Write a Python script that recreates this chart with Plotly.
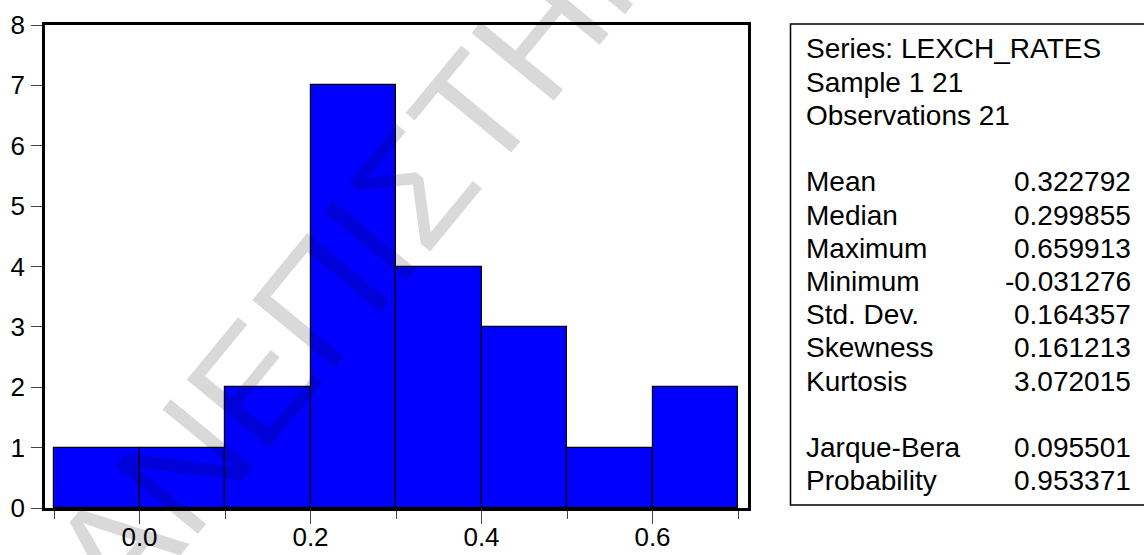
import plotly.graph_objects as go

# Histogram of LEXCH_RATES: bin left edges (width 0.1) and counts per bin
bin_left = [-0.1, 0.0, 0.1, 0.2, 0.3, 0.4, 0.5, 0.6]
counts = [1, 1, 2, 7, 4, 3, 1, 2]
bin_width = 0.1

# Descriptive statistics shown beside the histogram
header_lines = ["Series: LEXCH_RATES", "Sample 1 21", "Observations 21"]
stat_names = ["Mean", "Median", "Maximum", "Minimum", "Std. Dev.", "Skewness", "Kurtosis"]
stat_values = ["0.322792", "0.299855", "0.659913", "-0.031276", "0.164357", "0.161213", "3.072015"]
test_names = ["Jarque-Bera", "Probability"]
test_values = ["0.095501", "0.953371"]

W, H = 1144, 555
L, R, T, B = 45, 1144 - 748, 25, 555 - 508
PW, PH = W - L - R, H - T - B
FONT = "Liberation Sans, Arial, sans-serif"
STAT_SIZE = 28


def px_x(px):
    return (px - L) / PW


def px_y(py):
    return (H - B - py) / PH


centers = [b + bin_width / 2 for b in bin_left]

fig = go.Figure()
fig.add_trace(go.Bar(
    x=centers, y=counts, width=bin_width,
    marker=dict(color="#0000FF", line=dict(color="black", width=1.2)),
    hoverinfo="x+y", showlegend=False,
))

fig.update_layout(
    width=W, height=H,
    margin=dict(l=L, r=R, t=T, b=B, pad=0),
    paper_bgcolor="white", plot_bgcolor="white",
    font=dict(family=FONT, size=26, color="black"),
    bargap=0,
    xaxis=dict(
        range=[-0.11053, 0.71170], tick0=0, dtick=0.2, tickformat=".1f",
        ticks="outside", ticklen=13, tickwidth=1, tickcolor="#444",
        minor=dict(dtick=0.1, ticks="outside", ticklen=8, tickwidth=1, tickcolor="#444"),
        showline=True, linewidth=2.5, linecolor="black", mirror=True,
        showgrid=False, zeroline=False, ticklabelstandoff=-9,
        tickfont=dict(size=26), automargin=False,
    ),
    yaxis=dict(
        range=[0, 8], dtick=1,
        ticks="outside", ticklen=11, tickwidth=1, tickcolor="#444",
        showline=True, linewidth=2.5, linecolor="black", mirror=True,
        showgrid=False, zeroline=False, ticklabelstandoff=1,
        tickfont=dict(size=26), automargin=False,
    ),
)

# Statistics panel frame
fig.add_shape(type="rect", xref="paper", yref="paper",
              x0=px_x(790.5), x1=px_x(1150), y0=px_y(505), y1=px_y(24),
              line=dict(color="black", width=1.5), fillcolor="rgba(0,0,0,0)")

line_step = 33.2
first_baseline = 58.0


def add_line(row, left_text, right_text=None):
    yc = first_baseline + row * line_step - 9
    fig.add_annotation(x=px_x(804), y=px_y(yc), xref="paper", yref="paper",
                       text=left_text, showarrow=False, xanchor="left", yanchor="middle",
                       font=dict(family=FONT, size=STAT_SIZE, color="black"))
    if right_text is not None:
        fig.add_annotation(x=px_x(1133), y=px_y(yc), xref="paper", yref="paper",
                           text=right_text, showarrow=False, xanchor="right", yanchor="middle",
                           font=dict(family=FONT, size=STAT_SIZE, color="black"))


for i, t in enumerate(header_lines):
    add_line(i, t)
for i, (n, v) in enumerate(zip(stat_names, stat_values)):
    add_line(4 + i, n, v)
for i, (n, v) in enumerate(zip(test_names, test_values)):
    add_line(12 + i, n, v)

# Diagonal watermark across the plot
fig.add_annotation(x=px_x(386), y=px_y(220), xref="paper", yref="paper",
                   text="ΠΑΝΕΠΙΣΤΗΜΙΟ", showarrow=False, textangle=-50.6,
                   xanchor="center", yanchor="middle",
                   font=dict(family=FONT, size=155, color="rgba(0,0,0,0.15)"))

fig.write_html("out.html")
